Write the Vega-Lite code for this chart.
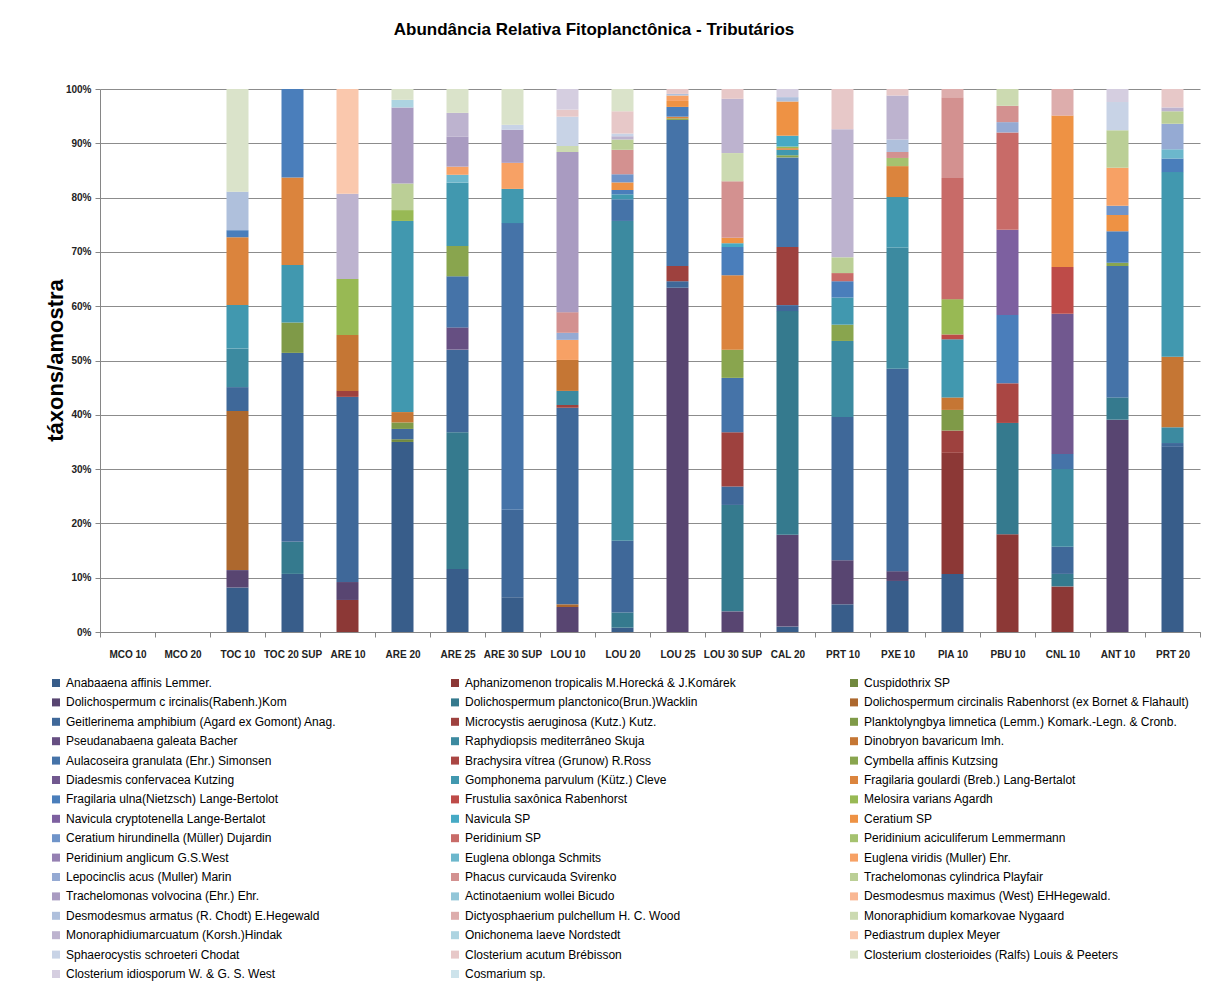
{
  "$schema": "https://vega.github.io/schema/vega-lite/v6.json",
  "width": 1100,
  "height": 543,
  "autosize": {"type": "none"},
  "padding": {"left": 100, "top": 89, "right": 8, "bottom": 353},
  "background": "white",
  "title": {
    "text": "Abundância Relativa Fitoplanctônica - Tributários",
    "font": "Liberation Sans, sans-serif",
    "fontSize": 17,
    "fontWeight": "bold",
    "color": "#000000",
    "anchor": "middle",
    "frame": "group",
    "dx": -56,
    "offset": 45
  },
  "datasets": {
    "taxa": [
      {"i": 1, "n": "Anabaaena affinis Lemmer."},
      {"i": 2, "n": "Aphanizomenon tropicalis M.Horecká & J.Komárek"},
      {"i": 3, "n": "Cuspidothrix SP"},
      {"i": 4, "n": "Dolichospermum c ircinalis(Rabenh.)Kom"},
      {"i": 5, "n": "Dolichospermum planctonico(Brun.)Wacklin"},
      {"i": 6, "n": "Dolichospermum circinalis Rabenhorst (ex Bornet & Flahault)"},
      {"i": 7, "n": "Geitlerinema amphibium (Agard ex Gomont) Anag."},
      {"i": 8, "n": "Microcystis aeruginosa (Kutz.) Kutz."},
      {"i": 9, "n": "Planktolyngbya limnetica (Lemm.) Komark.-Legn. & Cronb."},
      {"i": 10, "n": "Pseudanabaena galeata Bacher"},
      {"i": 11, "n": "Raphydiopsis mediterrâneo Skuja"},
      {"i": 12, "n": "Dinobryon bavaricum Imh."},
      {"i": 13, "n": "Aulacoseira granulata (Ehr.) Simonsen"},
      {"i": 14, "n": "Brachysira vítrea (Grunow) R.Ross"},
      {"i": 15, "n": "Cymbella affinis Kutzsing"},
      {"i": 16, "n": "Diadesmis confervacea Kutzing"},
      {"i": 17, "n": "Gomphonema parvulum (Kütz.) Cleve"},
      {"i": 18, "n": "Fragilaria goulardi (Breb.) Lang-Bertalot"},
      {"i": 19, "n": "Fragilaria ulna(Nietzsch) Lange-Bertolot"},
      {"i": 20, "n": "Frustulia saxônica Rabenhorst"},
      {"i": 21, "n": "Melosira varians Agardh"},
      {"i": 22, "n": "Navicula cryptotenella Lange-Bertalot"},
      {"i": 23, "n": "Navicula SP"},
      {"i": 24, "n": "Ceratium SP"},
      {"i": 25, "n": "Ceratium hirundinella (Müller) Dujardin"},
      {"i": 26, "n": "Peridinium SP"},
      {"i": 27, "n": "Peridinium aciculiferum Lemmermann"},
      {"i": 28, "n": "Peridinium anglicum G.S.West"},
      {"i": 29, "n": "Euglena oblonga Schmits"},
      {"i": 30, "n": "Euglena viridis (Muller) Ehr."},
      {"i": 31, "n": "Lepocinclis acus (Muller) Marin"},
      {"i": 32, "n": "Phacus curvicauda Svirenko"},
      {"i": 33, "n": "Trachelomonas cylindrica Playfair"},
      {"i": 34, "n": "Trachelomonas volvocina (Ehr.) Ehr."},
      {"i": 35, "n": "Actinotaenium wollei Bicudo"},
      {"i": 36, "n": "Desmodesmus maximus (West) EHHegewald."},
      {"i": 37, "n": "Desmodesmus armatus (R. Chodt) E.Hegewald"},
      {"i": 38, "n": "Dictyosphaerium pulchellum H. C. Wood"},
      {"i": 39, "n": "Monoraphidium komarkovae Nygaard"},
      {"i": 40, "n": "Monoraphidiumarcuatum (Korsh.)Hindak"},
      {"i": 41, "n": "Onichonema laeve Nordstedt"},
      {"i": 42, "n": "Pediastrum duplex Meyer"},
      {"i": 43, "n": "Sphaerocystis schroeteri Chodat"},
      {"i": 44, "n": "Closterium acutum Brébisson"},
      {"i": 45, "n": "Closterium closterioides (Ralfs) Louis & Peeters"},
      {"i": 46, "n": "Closterium idiosporum W. & G. S. West"},
      {"i": 47, "n": "Cosmarium sp."}
    ],
    "main": [
      {"s": "TOC 10", "i": 1, "v": 8.2}, {"s": "TOC 10", "i": 4, "v": 3.2}, {"s": "TOC 10", "i": 6, "v": 29.3}, {"s": "TOC 10", "i": 7, "v": 4.4}, {"s": "TOC 10", "i": 11, "v": 7.1}, {"s": "TOC 10", "i": 17, "v": 8.0}, {"s": "TOC 10", "i": 18, "v": 12.5}, {"s": "TOC 10", "i": 19, "v": 1.3}, {"s": "TOC 10", "i": 37, "v": 7.1}, {"s": "TOC 10", "i": 45, "v": 18.9},
      {"s": "TOC 20 SUP", "i": 1, "v": 10.7}, {"s": "TOC 20 SUP", "i": 5, "v": 5.9}, {"s": "TOC 20 SUP", "i": 7, "v": 34.8}, {"s": "TOC 20 SUP", "i": 9, "v": 5.6}, {"s": "TOC 20 SUP", "i": 17, "v": 10.6}, {"s": "TOC 20 SUP", "i": 18, "v": 16.1}, {"s": "TOC 20 SUP", "i": 19, "v": 16.3},
      {"s": "ARE 10", "i": 2, "v": 5.9}, {"s": "ARE 10", "i": 4, "v": 3.3}, {"s": "ARE 10", "i": 7, "v": 34.1}, {"s": "ARE 10", "i": 8, "v": 1.1}, {"s": "ARE 10", "i": 12, "v": 10.3}, {"s": "ARE 10", "i": 21, "v": 10.3}, {"s": "ARE 10", "i": 40, "v": 15.7}, {"s": "ARE 10", "i": 42, "v": 19.3},
      {"s": "ARE 20", "i": 1, "v": 35.0}, {"s": "ARE 20", "i": 3, "v": 0.5}, {"s": "ARE 20", "i": 7, "v": 1.9}, {"s": "ARE 20", "i": 9, "v": 1.2}, {"s": "ARE 20", "i": 12, "v": 1.9}, {"s": "ARE 20", "i": 17, "v": 35.2}, {"s": "ARE 20", "i": 21, "v": 2.0}, {"s": "ARE 20", "i": 33, "v": 4.9}, {"s": "ARE 20", "i": 34, "v": 14.0}, {"s": "ARE 20", "i": 41, "v": 1.4}, {"s": "ARE 20", "i": 45, "v": 2.0},
      {"s": "ARE 25", "i": 1, "v": 11.6}, {"s": "ARE 25", "i": 5, "v": 25.2}, {"s": "ARE 25", "i": 7, "v": 15.2}, {"s": "ARE 25", "i": 10, "v": 4.1}, {"s": "ARE 25", "i": 13, "v": 9.4}, {"s": "ARE 25", "i": 15, "v": 5.6}, {"s": "ARE 25", "i": 17, "v": 11.7}, {"s": "ARE 25", "i": 29, "v": 1.4}, {"s": "ARE 25", "i": 30, "v": 1.5}, {"s": "ARE 25", "i": 34, "v": 5.5}, {"s": "ARE 25", "i": 40, "v": 4.4}, {"s": "ARE 25", "i": 45, "v": 4.4},
      {"s": "ARE 30 SUP", "i": 1, "v": 6.4}, {"s": "ARE 30 SUP", "i": 7, "v": 16.1}, {"s": "ARE 30 SUP", "i": 13, "v": 52.8}, {"s": "ARE 30 SUP", "i": 17, "v": 6.3}, {"s": "ARE 30 SUP", "i": 30, "v": 4.8}, {"s": "ARE 30 SUP", "i": 34, "v": 6.1}, {"s": "ARE 30 SUP", "i": 43, "v": 0.9}, {"s": "ARE 30 SUP", "i": 45, "v": 6.6},
      {"s": "LOU 10", "i": 4, "v": 4.6}, {"s": "LOU 10", "i": 6, "v": 0.5}, {"s": "LOU 10", "i": 7, "v": 36.2}, {"s": "LOU 10", "i": 8, "v": 0.5}, {"s": "LOU 10", "i": 11, "v": 2.6}, {"s": "LOU 10", "i": 12, "v": 5.7}, {"s": "LOU 10", "i": 30, "v": 3.7}, {"s": "LOU 10", "i": 31, "v": 1.3}, {"s": "LOU 10", "i": 32, "v": 3.8}, {"s": "LOU 10", "i": 34, "v": 29.5}, {"s": "LOU 10", "i": 39, "v": 1.1}, {"s": "LOU 10", "i": 43, "v": 5.4}, {"s": "LOU 10", "i": 44, "v": 1.3}, {"s": "LOU 10", "i": 46, "v": 3.8},
      {"s": "LOU 20", "i": 1, "v": 0.8}, {"s": "LOU 20", "i": 5, "v": 2.8}, {"s": "LOU 20", "i": 7, "v": 13.2}, {"s": "LOU 20", "i": 11, "v": 58.9}, {"s": "LOU 20", "i": 13, "v": 4.0}, {"s": "LOU 20", "i": 17, "v": 0.9}, {"s": "LOU 20", "i": 19, "v": 0.8}, {"s": "LOU 20", "i": 24, "v": 1.4}, {"s": "LOU 20", "i": 25, "v": 1.5}, {"s": "LOU 20", "i": 32, "v": 4.5}, {"s": "LOU 20", "i": 33, "v": 1.9}, {"s": "LOU 20", "i": 40, "v": 0.6}, {"s": "LOU 20", "i": 43, "v": 0.5}, {"s": "LOU 20", "i": 44, "v": 4.1}, {"s": "LOU 20", "i": 45, "v": 4.1},
      {"s": "LOU 25", "i": 4, "v": 63.4}, {"s": "LOU 25", "i": 7, "v": 1.2}, {"s": "LOU 25", "i": 8, "v": 2.8}, {"s": "LOU 25", "i": 13, "v": 26.9}, {"s": "LOU 25", "i": 15, "v": 0.3}, {"s": "LOU 25", "i": 18, "v": 0.3}, {"s": "LOU 25", "i": 19, "v": 1.8}, {"s": "LOU 25", "i": 24, "v": 1.1}, {"s": "LOU 25", "i": 30, "v": 1.0}, {"s": "LOU 25", "i": 37, "v": 0.3}, {"s": "LOU 25", "i": 44, "v": 0.9},
      {"s": "LOU 30 SUP", "i": 4, "v": 3.8}, {"s": "LOU 30 SUP", "i": 5, "v": 19.6}, {"s": "LOU 30 SUP", "i": 7, "v": 3.4}, {"s": "LOU 30 SUP", "i": 8, "v": 10.0}, {"s": "LOU 30 SUP", "i": 13, "v": 10.0}, {"s": "LOU 30 SUP", "i": 15, "v": 5.2}, {"s": "LOU 30 SUP", "i": 18, "v": 13.7}, {"s": "LOU 30 SUP", "i": 19, "v": 5.2}, {"s": "LOU 30 SUP", "i": 23, "v": 0.7}, {"s": "LOU 30 SUP", "i": 24, "v": 1.0}, {"s": "LOU 30 SUP", "i": 32, "v": 10.4}, {"s": "LOU 30 SUP", "i": 39, "v": 5.2}, {"s": "LOU 30 SUP", "i": 40, "v": 10.0}, {"s": "LOU 30 SUP", "i": 44, "v": 1.8},
      {"s": "CAL 20", "i": 1, "v": 1.0}, {"s": "CAL 20", "i": 4, "v": 16.9}, {"s": "CAL 20", "i": 5, "v": 41.2}, {"s": "CAL 20", "i": 7, "v": 1.1}, {"s": "CAL 20", "i": 8, "v": 10.7}, {"s": "CAL 20", "i": 13, "v": 16.5}, {"s": "CAL 20", "i": 15, "v": 0.4}, {"s": "CAL 20", "i": 17, "v": 1.0}, {"s": "CAL 20", "i": 18, "v": 0.3}, {"s": "CAL 20", "i": 21, "v": 0.3}, {"s": "CAL 20", "i": 23, "v": 2.0}, {"s": "CAL 20", "i": 24, "v": 6.3}, {"s": "CAL 20", "i": 37, "v": 0.8}, {"s": "CAL 20", "i": 46, "v": 1.5},
      {"s": "PRT 10", "i": 1, "v": 5.1}, {"s": "PRT 10", "i": 4, "v": 8.1}, {"s": "PRT 10", "i": 7, "v": 26.4}, {"s": "PRT 10", "i": 11, "v": 14.0}, {"s": "PRT 10", "i": 15, "v": 3.0}, {"s": "PRT 10", "i": 17, "v": 5.0}, {"s": "PRT 10", "i": 19, "v": 3.0}, {"s": "PRT 10", "i": 26, "v": 1.5}, {"s": "PRT 10", "i": 33, "v": 2.9}, {"s": "PRT 10", "i": 40, "v": 23.6}, {"s": "PRT 10", "i": 44, "v": 7.4},
      {"s": "PXE 10", "i": 1, "v": 9.4}, {"s": "PXE 10", "i": 4, "v": 1.8}, {"s": "PXE 10", "i": 7, "v": 37.3}, {"s": "PXE 10", "i": 11, "v": 22.3}, {"s": "PXE 10", "i": 17, "v": 9.3}, {"s": "PXE 10", "i": 18, "v": 5.7}, {"s": "PXE 10", "i": 27, "v": 1.5}, {"s": "PXE 10", "i": 32, "v": 1.1}, {"s": "PXE 10", "i": 37, "v": 2.3}, {"s": "PXE 10", "i": 40, "v": 8.1}, {"s": "PXE 10", "i": 44, "v": 1.2},
      {"s": "PIA 10", "i": 1, "v": 10.7}, {"s": "PIA 10", "i": 2, "v": 22.3}, {"s": "PIA 10", "i": 8, "v": 4.1}, {"s": "PIA 10", "i": 9, "v": 3.8}, {"s": "PIA 10", "i": 12, "v": 2.3}, {"s": "PIA 10", "i": 17, "v": 10.7}, {"s": "PIA 10", "i": 20, "v": 0.9}, {"s": "PIA 10", "i": 21, "v": 6.5}, {"s": "PIA 10", "i": 26, "v": 22.3}, {"s": "PIA 10", "i": 32, "v": 14.9}, {"s": "PIA 10", "i": 38, "v": 1.5},
      {"s": "PBU 10", "i": 2, "v": 18.0}, {"s": "PBU 10", "i": 5, "v": 20.5}, {"s": "PBU 10", "i": 14, "v": 7.3}, {"s": "PBU 10", "i": 19, "v": 12.6}, {"s": "PBU 10", "i": 22, "v": 15.7}, {"s": "PBU 10", "i": 26, "v": 17.9}, {"s": "PBU 10", "i": 31, "v": 1.9}, {"s": "PBU 10", "i": 32, "v": 3.0}, {"s": "PBU 10", "i": 39, "v": 3.1},
      {"s": "CNL 10", "i": 2, "v": 8.4}, {"s": "CNL 10", "i": 5, "v": 2.3}, {"s": "CNL 10", "i": 7, "v": 5.0}, {"s": "CNL 10", "i": 11, "v": 14.3}, {"s": "CNL 10", "i": 13, "v": 2.8}, {"s": "CNL 10", "i": 16, "v": 25.8}, {"s": "CNL 10", "i": 20, "v": 8.6}, {"s": "CNL 10", "i": 24, "v": 27.9}, {"s": "CNL 10", "i": 38, "v": 4.9},
      {"s": "ANT 10", "i": 4, "v": 39.1}, {"s": "ANT 10", "i": 5, "v": 4.1}, {"s": "ANT 10", "i": 13, "v": 24.2}, {"s": "ANT 10", "i": 15, "v": 0.6}, {"s": "ANT 10", "i": 19, "v": 5.8}, {"s": "ANT 10", "i": 24, "v": 3.0}, {"s": "ANT 10", "i": 25, "v": 1.7}, {"s": "ANT 10", "i": 30, "v": 7.0}, {"s": "ANT 10", "i": 33, "v": 6.9}, {"s": "ANT 10", "i": 43, "v": 5.2}, {"s": "ANT 10", "i": 46, "v": 2.4},
      {"s": "PRT 20", "i": 1, "v": 34.1}, {"s": "PRT 20", "i": 7, "v": 0.7}, {"s": "PRT 20", "i": 11, "v": 2.9}, {"s": "PRT 20", "i": 12, "v": 13.0}, {"s": "PRT 20", "i": 17, "v": 34.0}, {"s": "PRT 20", "i": 19, "v": 2.5}, {"s": "PRT 20", "i": 29, "v": 1.7}, {"s": "PRT 20", "i": 31, "v": 4.7}, {"s": "PRT 20", "i": 33, "v": 2.3}, {"s": "PRT 20", "i": 40, "v": 0.7}, {"s": "PRT 20", "i": 44, "v": 3.4}
    ]
  },
  "data": {"name": "main"},
  "transform": [
    {"lookup": "i", "from": {"data": {"name": "taxa"}, "key": "i", "fields": ["n"]}}
  ],
  "mark": {"type": "bar", "width": 22},
  "encoding": {
    "x": {
      "field": "s",
      "type": "nominal",
      "sort": null,
      "scale": {
        "domain": ["MCO 10", "MCO 20", "TOC 10", "TOC 20 SUP", "ARE 10", "ARE 20", "ARE 25", "ARE 30 SUP", "LOU 10", "LOU 20", "LOU 25", "LOU 30 SUP", "CAL 20", "PRT 10", "PXE 10", "PIA 10", "PBU 10", "CNL 10", "ANT 10", "PRT 20"],
        "paddingInner": 0,
        "paddingOuter": 0
      },
      "axis": {
        "title": null,
        "labelAngle": 0,
        "labelFontWeight": "bold",
        "labelFontSize": 10,
        "labelColor": "#222222",
        "labelPadding": 12,
        "tickBand": "extent",
        "tickSize": 5,
        "tickColor": "#868686",
        "domainColor": "#868686",
        "grid": false
      }
    },
    "y": {
      "field": "v",
      "type": "quantitative",
      "stack": "normalize",
      "scale": {"domain": [0, 1]},
      "axis": {
        "values": [0, 0.1, 0.2, 0.3, 0.4, 0.5, 0.6, 0.7, 0.8, 0.9, 1],
        "format": ".0%",
        "title": "táxons/amostra",
        "titleFontSize": 22,
        "titleFontWeight": "bold",
        "titleColor": "#000000",
        "titleAngle": -90,
        "titleAlign": "center",
        "titleBaseline": "middle",
        "titleX": -45,
        "titleY": 271,
        "labelFontSize": 10,
        "labelFontWeight": "bold",
        "labelColor": "#222222",
        "labelPadding": 4,
        "tickSize": 5,
        "tickColor": "#868686",
        "domainColor": "#868686",
        "gridColor": "#8C8C8C",
        "grid": true
      }
    },
    "color": {
      "field": "n",
      "type": "nominal",
      "scale": {
        "domain": [
          "Anabaaena affinis Lemmer.",
          "Aphanizomenon tropicalis M.Horecká & J.Komárek",
          "Cuspidothrix SP",
          "Dolichospermum c ircinalis(Rabenh.)Kom",
          "Dolichospermum planctonico(Brun.)Wacklin",
          "Dolichospermum circinalis Rabenhorst (ex Bornet & Flahault)",
          "Geitlerinema amphibium (Agard ex Gomont) Anag.",
          "Microcystis aeruginosa (Kutz.) Kutz.",
          "Planktolyngbya limnetica (Lemm.) Komark.-Legn. & Cronb.",
          "Pseudanabaena galeata Bacher",
          "Raphydiopsis mediterrâneo Skuja",
          "Dinobryon bavaricum Imh.",
          "Aulacoseira granulata (Ehr.) Simonsen",
          "Brachysira vítrea (Grunow) R.Ross",
          "Cymbella affinis Kutzsing",
          "Diadesmis confervacea Kutzing",
          "Gomphonema parvulum (Kütz.) Cleve",
          "Fragilaria goulardi (Breb.) Lang-Bertalot",
          "Fragilaria ulna(Nietzsch) Lange-Bertolot",
          "Frustulia saxônica Rabenhorst",
          "Melosira varians Agardh",
          "Navicula cryptotenella Lange-Bertalot",
          "Navicula SP",
          "Ceratium SP",
          "Ceratium hirundinella (Müller) Dujardin",
          "Peridinium SP",
          "Peridinium aciculiferum Lemmermann",
          "Peridinium anglicum G.S.West",
          "Euglena oblonga Schmits",
          "Euglena viridis (Muller) Ehr.",
          "Lepocinclis acus (Muller) Marin",
          "Phacus curvicauda Svirenko",
          "Trachelomonas cylindrica Playfair",
          "Trachelomonas volvocina (Ehr.) Ehr.",
          "Actinotaenium wollei Bicudo",
          "Desmodesmus maximus (West) EHHegewald.",
          "Desmodesmus armatus (R. Chodt) E.Hegewald",
          "Dictyosphaerium pulchellum H. C. Wood",
          "Monoraphidium komarkovae Nygaard",
          "Monoraphidiumarcuatum (Korsh.)Hindak",
          "Onichonema laeve Nordstedt",
          "Pediastrum duplex Meyer",
          "Sphaerocystis schroeteri Chodat",
          "Closterium acutum Brébisson",
          "Closterium closterioides (Ralfs) Louis & Peeters",
          "Closterium idiosporum W. & G. S. West",
          "Cosmarium sp."
        ],
        "range": [
          "#385D8A", "#8C3836", "#71893F", "#584571", "#357A8E", "#AD682E",
          "#3F6899", "#9E413E", "#7F9A48", "#664F82", "#3C8AA0", "#C57634",
          "#4573A8", "#AA4643", "#89A54E", "#71588F", "#4198AF", "#DB843D",
          "#4A7EBB", "#BE4B48", "#98B954", "#7D60A0", "#46AAC5", "#EE9244",
          "#6F94C9", "#C86B68", "#A5C26F", "#9580B2", "#6CB7CC", "#F7A165",
          "#95AAD3", "#D39190", "#BBCF96", "#A99BC1", "#92C6D8", "#F9B793",
          "#AFC0DC", "#DDADAC", "#CCDAB1", "#BDB3CF", "#ADD4E1", "#FAC8AD",
          "#C8D3E6", "#E7C8C8", "#DAE3CA", "#D5CEE0", "#CDE3EB"
        ]
      },
      "legend": {
        "title": null,
        "orient": "none",
        "direction": "horizontal",
        "legendX": -50,
        "legendY": 588,
        "columns": 3,
        "symbolLimit": 0,
        "gridAlign": "all",
        "columnPadding": 58,
        "rowPadding": 7.4,
        "symbolType": "square",
        "symbolSize": 64,
        "symbolStrokeWidth": 0,
        "labelFontSize": 12,
        "labelColor": "#000000",
        "labelLimit": 420,
        "labelOffset": 4
      }
    },
    "order": {"field": "i", "type": "quantitative"}
  },
  "config": {
    "view": {"stroke": null},
    "font": "Liberation Sans, sans-serif"
  }
}
